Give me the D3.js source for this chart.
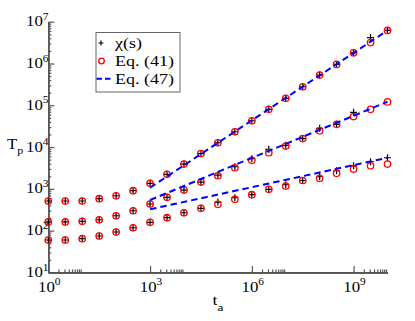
<!DOCTYPE html>
<html>
<head>
<meta charset="utf-8">
<script src="https://cdn.jsdelivr.net/npm/d3@7"></script>
<style>
  body { margin: 0; background: #fff; }
  svg { display: block; }
</style>
</head>
<body>
<svg id="chart" width="415" height="321"></svg>
<script>
// waiting time t_a (x) and the three T_p curves
const ta = [1e0, 3.162e0, 1e1, 3.162e1, 1e2, 3.162e2, 1e3, 3.162e3, 1e4, 3.162e4, 1e5,
            3.162e5, 1e6, 3.162e6, 1e7, 3.162e7, 1e8, 3.162e8, 1e9, 3.162e9, 1e10];

// chi(s), plus markers
const chiTop = [511, 511, 511, 580, 684, 902, 1355, 2223, 3917, 6982, 12680, 23230, 42560,
                79800, 146200, 277300, 527200, 950600, 1803000, 4169000, 6166000];
const chiMid = [161, 161, 167, 182, 227, 299, 433, 626, 936, 1454, 2138, 3381, 5248,
                8810, 10990, 15960, 27990, 34910, 67610];
const chiBot = [59.6, 59.6, 64, 74.3, 92.7, 117, 158, 204, 268, 341, 483, 612, 723,
                973, 1253, 1581, 1945, 2710, 3573, 4446, 5546];

// Eq. (41), open circles
const eq41Top = [511, 511, 511, 580, 684, 902, 1355, 2223, 3917, 6982, 12680, 23230, 42560,
                 79800, 146200, 277300, 527200, 950600, 1803000, 3162000, 6166000];
const eq41Mid = [161, 161, 167, 182, 227, 299, 433, 626, 936, 1454, 2056, 3199, 4808,
                 7311, 10570, 15960, 24430, 34910, 53700, 79800, 120500];
const eq41Bot = [59.6, 59.6, 64, 74.3, 92.7, 117, 158, 204, 268, 341, 426, 561, 723,
                 973, 1167, 1581, 1782, 2350, 2979, 3573, 3917];

// Eq. (47), dashed power laws from t_a = 10^3
const eq47Top = [[1e3, 1062], [1e10, 6166000]];
const eq47Mid = [[1e3, 540], [1e10, 121300]];
const eq47Bot = [[1e3, 324], [1e10, 5546]];

const xMajor = [1e0, 1e3, 1e6, 1e9];
const xMajorExp = ["0", "3", "6", "9"];
const yMajor = [1e1, 1e2, 1e3, 1e4, 1e5, 1e6, 1e7];
const yMajorExp = ["1", "2", "3", "4", "5", "6", "7"];

const legendLabels = ["\u03c7(s)", "Eq. (41)", "Eq. (47)"];

const svg = d3.select("#chart")
  .attr("font-family", "'Liberation Serif', 'Times New Roman', serif");

let plot = {
  "left": 48.3,
  "right": 387.5,
  "top": 21.7,
  "bottom": 272.4
};

// the original lettering is a bit wider than plain Times
const sx = 1.2;
const place = (x, y) => `translate(${x}, ${y}) scale(${sx}, 1)`;

let xScale = d3.scaleLog().domain([1, 1e10]).range([plot.left, plot.right]);
let yScale = d3.scaleLog().domain([10, 1e7]).range([plot.bottom, plot.top]);

// minor ticks: 2..9 inside each y decade, and the decade after each x major tick
let yMinor = [];
for (let d = 1; d < 7; d++) {
  for (let k = 2; k <= 9; k++) yMinor.push(k * Math.pow(10, d));
}
let xMinor = [];
for (let m of xMajor) {
  for (let k = 2; k <= 9; k++) xMinor.push(k * m);
}

const axisColor = "#555";

function styleAxis(g) {
  g.selectAll("path").attr("stroke", axisColor).attr("stroke-width", 1.6);
  g.selectAll("line").attr("stroke", axisColor).attr("stroke-width", 1.2);
  g.selectAll("text").remove();
}

svg.append("g")
  .attr("transform", `translate(0, ${plot.bottom})`)
  .call(d3.axisBottom(xScale).tickValues(xMinor).tickSize(-3).tickSizeOuter(0).tickFormat(""))
  .call(styleAxis);
svg.append("g")
  .attr("transform", `translate(0, ${plot.bottom})`)
  .call(d3.axisBottom(xScale).tickValues(xMajor).tickSize(-6.5).tickSizeOuter(0).tickFormat(""))
  .call(styleAxis);

svg.append("g")
  .attr("transform", `translate(${plot.left}, 0)`)
  .call(d3.axisLeft(yScale).tickValues(yMinor).tickSize(-3).tickSizeOuter(0).tickFormat(""))
  .call(styleAxis);
svg.append("g")
  .attr("transform", `translate(${plot.left}, 0)`)
  .call(d3.axisLeft(yScale).tickValues(yMajor).tickSize(-6).tickSizeOuter(0).tickFormat(""))
  .call(styleAxis);

// tick labels 10^k
let xl = svg.append("g").selectAll("text")
  .data(xMajor)
  .join("text")
  .attr("transform", d => place(xScale(d) + 1, 291.5))
  .attr("text-anchor", "middle")
  .attr("font-size", "14px")
  .text("10");
xl.append("tspan")
  .attr("dy", -6.5)
  .attr("font-size", "9.5px")
  .text((d, i) => xMajorExp[i]);

let yl = svg.append("g").selectAll("text")
  .data(yMajor)
  .join("text")
  .attr("transform", d => place(48.5, yScale(d) + 4.6))
  .attr("text-anchor", "end")
  .attr("font-size", "14px")
  .text("10");
yl.append("tspan")
  .attr("dy", -6.5)
  .attr("font-size", "9.5px")
  .text((d, i) => yMajorExp[i]);

// axis titles
let yt = svg.append("text")
  .attr("transform", place(7, 148.5))
  .attr("font-size", "14px")
  .text("T");
yt.append("tspan").attr("dy", 5.5).attr("font-size", "10px").text("p");

let xt = svg.append("text")
  .attr("transform", place(212.5, 305))
  .attr("font-size", "15px")
  .text("t");
xt.append("tspan").attr("dy", 6).attr("font-size", "11px").text("a");

// series
const plusPath = "M-3.5,0H3.5M0,-3.5V3.5";

function drawPlus(vals) {
  svg.append("g").selectAll("path")
    .data(vals)
    .join("path")
    .attr("d", plusPath)
    .attr("transform", (d, i) => `translate(${xScale(ta[i])}, ${yScale(d)})`)
    .attr("stroke", "#000")
    .attr("stroke-width", 1.2)
    .attr("fill", "none");
}

function drawCircles(vals) {
  svg.append("g").selectAll("circle")
    .data(vals)
    .join("circle")
    .attr("cx", (d, i) => xScale(ta[i]))
    .attr("cy", d => yScale(d))
    .attr("r", 3.2)
    .attr("stroke", "#ff0000")
    .attr("stroke-width", 1.3)
    .attr("fill", "none");
}

let line = d3.line()
  .x(d => xScale(d[0]))
  .y(d => yScale(d[1]));

function drawDashed(pts) {
  svg.append("path")
    .datum(pts)
    .attr("d", line)
    .attr("stroke", "#0000ff")
    .attr("stroke-width", 2)
    .attr("stroke-dasharray", "6.5,4")
    .attr("fill", "none");
}

[chiTop, chiMid, chiBot].forEach(drawPlus);
[eq41Top, eq41Mid, eq41Bot].forEach(drawCircles);
[eq47Top, eq47Mid, eq47Bot].forEach(drawDashed);

// legend
let legend = svg.append("g");
legend.append("rect")
  .attr("x", 96)
  .attr("y", 32.5)
  .attr("width", 84)
  .attr("height", 59.5)
  .attr("fill", "#fff")
  .attr("stroke", "#666")
  .attr("stroke-width", 1);

let rowY = [43, 61, 78.8];

legend.append("path")
  .attr("d", "M-2.5,0H2.5M0,-2.5V2.5")
  .attr("transform", `translate(101, ${rowY[0]})`)
  .attr("stroke", "#000")
  .attr("stroke-width", 1.2);
legend.append("circle")
  .attr("cx", 101.5).attr("cy", rowY[1]).attr("r", 2.8)
  .attr("stroke", "#ff0000").attr("stroke-width", 1.3).attr("fill", "none");
legend.append("line")
  .attr("x1", 96.5).attr("x2", 111.5).attr("y1", rowY[2]).attr("y2", rowY[2])
  .attr("stroke", "#0000ff").attr("stroke-width", 2).attr("stroke-dasharray", "5.5,3");

legend.selectAll(".ltext")
  .data(legendLabels)
  .join("text")
  .attr("class", "ltext")
  .attr("transform", (d, i) => place(115, rowY[i] + 5))
  .attr("font-size", "15px")
  .text(d => d);
</script>
</body>
</html>
